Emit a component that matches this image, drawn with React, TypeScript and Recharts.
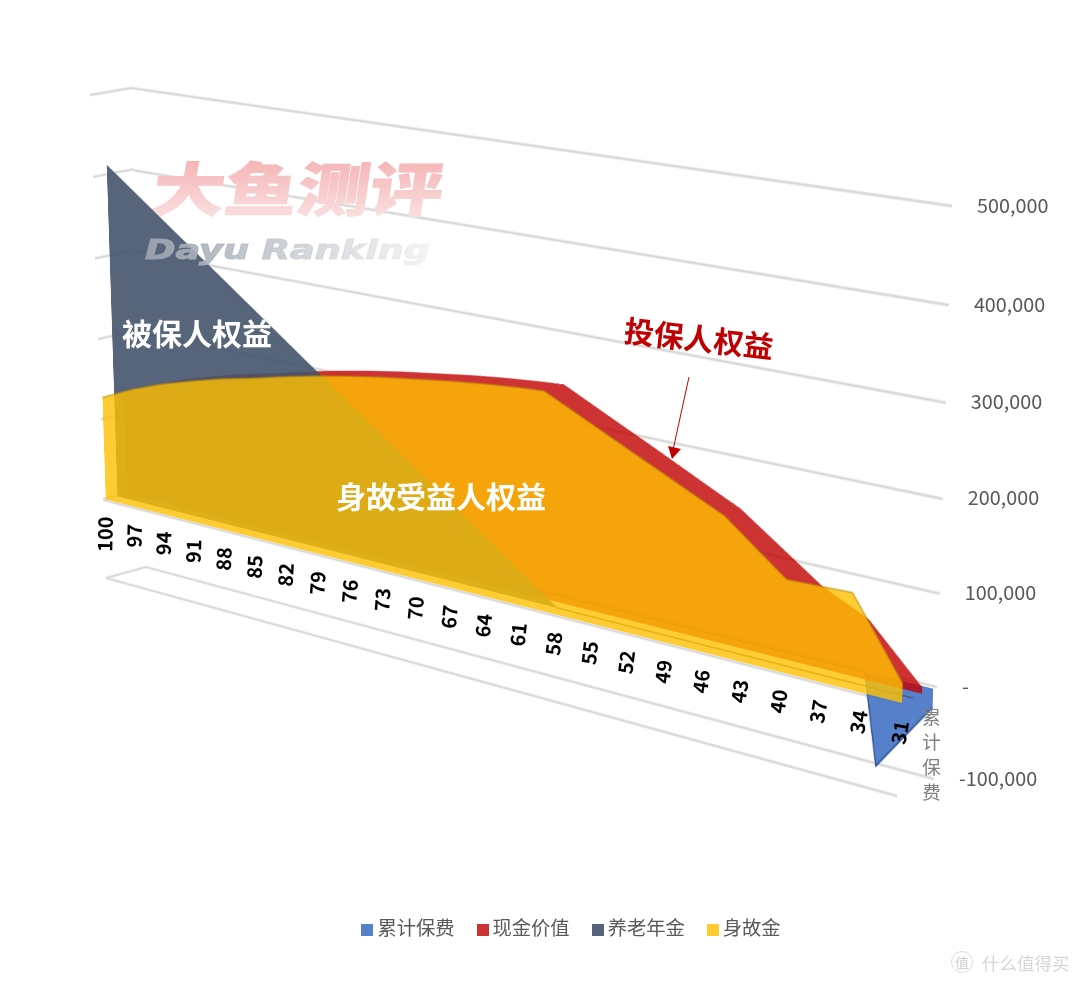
import React from "react";
import { AreaChart, Area, XAxis, YAxis, CartesianGrid, Legend } from "recharts";

type Pt = [number, number];
const ageTicks = [100, 97, 94, 91, 88, 85, 82, 79, 76, 73, 70, 67, 64, 61, 58, 55, 52, 49, 46, 43, 40, 37, 34, 31];
const valueTicks = [-100000, 0, 100000, 200000, 300000, 400000, 500000];
const seriesNames = ["累计保费", "现金价值", "养老年金", "身故金"];
const seriesColors = ["#4472C4", "#C00000", "#44546A", "#FFC000"];
const legendColors = ["#5580CC", "#CB3234", "#566479", "#FFCB30"];

const premium: Pt[] = [[100, 0], [36, 0], [35, -100000], [31, -20000]];
const cashValue: Pt[] = [
  [100, 128000], [97, 146000], [94, 161000], [91, 173000], [88, 184000], [85, 193000], [82, 203000], [79, 212000],
  [76, 220000], [73, 227000], [70, 233000], [67, 239000], [64, 244000], [61, 248000], [59, 250000], [55, 223000],
  [52, 203000], [49, 182500], [46, 162000], [44.8, 154000], [38.5, 90000], [35, 66000], [31, 7000],
];
const pension: Pt[] = [
  [100, 412000], [97, 382000], [94, 352000], [91, 322000], [88, 292000], [85, 262000], [82, 232000], [79, 202000],
  [76, 172000], [73, 142000], [70, 112000], [67, 82000], [64, 52000], [61, 22000], [58.8, 0], [31, 0],
];
const deathBenefit: Pt[] = [
  [100, 129000], [97, 147000], [94, 162000], [91, 174000], [88, 185000], [85, 194000], [82, 204000], [79, 213000],
  [76, 221000], [73, 228000], [70, 234000], [67, 240000], [64, 245000], [61, 249000], [59, 251000], [58, 244500],
  [55, 224800], [52, 205000], [49, 185500], [46, 165800], [44.5, 156000], [39.7, 102500], [34.8, 105000], [31, 21000],
];

const FONT = '"Noto Sans CJK SC", "Noto Sans", sans-serif';
const W = 1000;
const H = 600;
const M = 6;
const FLT: Pt = [90, 95];
const FLB: Pt = [106, 578];
const FRT: Pt = [915, 223];
const FRB: Pt = [897, 796];
const BLT: Pt = [131, 88];
const BLB: Pt = [146, 567];
const BRT: Pt = [952, 206];
const BRB: Pt = [934, 779];

const lerp = (a: Pt, b: Pt, t: number): Pt => [a[0] + (b[0] - a[0]) * t, a[1] + (b[1] - a[1]) * t];
type Quad = [Pt, Pt, Pt, Pt];
const plane = (d: number): Quad => [lerp(FLT, BLT, d), lerp(FRT, BRT, d), lerp(FRB, BRB, d), lerp(FLB, BLB, d)];

function homography(q: Quad) {
  const [[x0, y0], [x1, y1], [x2, y2], [x3, y3]] = q;
  const dx1 = x1 - x2, dx2 = x3 - x2, dx3 = x0 - x1 + x2 - x3;
  const dy1 = y1 - y2, dy2 = y3 - y2, dy3 = y0 - y1 + y2 - y3;
  const den = dx1 * dy2 - dx2 * dy1;
  const g = (dx3 * dy2 - dx2 * dy3) / den;
  const h = (dx1 * dy3 - dx3 * dy1) / den;
  return {
    a: x1 - x0 + g * x1, b: x3 - x0 + h * x3, c: x0,
    d: y1 - y0 + g * y1, e: y3 - y0 + h * y3, f: y0, g, h,
  };
}
const project = (q: Quad, u: number, v: number): Pt => {
  const m = homography(q);
  const w = m.g * u + m.h * v + 1;
  return [(m.a * u + m.b * v + m.c) / w, (m.d * u + m.e * v + m.f) / w];
};
const cssMatrix = (q: Quad) => {
  const m = homography(q);
  const vals = [m.a / W, m.d / W, 0, m.g / W, m.b / H, m.e / H, 0, m.h / H, 0, 0, 1, 0, m.c, m.f, 0, 1];
  return `matrix3d(${vals.join(",")}) translate(${-M}px, ${-M}px)`;
};

const rows = (list: Pt[]) => list.map(([age, value]) => ({ age, value }));
const frame = { position: "absolute", left: 0, top: 0, transformOrigin: "0 0" } as const;

function SeriesPlane(props: { q: Quad; list: Pt[]; name: string; fill: string; alpha: number; stroke?: string; sw?: number; so?: number }) {
  const { q, list, name, fill, alpha, stroke, sw, so } = props;
  return (
    <div style={{ ...frame, transform: cssMatrix(q) }}>
      <AreaChart width={W + 2 * M} height={H + 2 * M} data={rows(list)} margin={{ top: M, right: M, bottom: M, left: M }}>
        <XAxis dataKey="age" type="number" domain={[31, 100]} reversed hide />
        <YAxis type="number" domain={[-100000, 500000]} hide />
        <Area
          dataKey="value"
          name={name}
          type="linear"
          baseValue={0}
          fill={fill}
          fillOpacity={alpha}
          stroke={stroke ?? "none"}
          strokeWidth={sw ?? 1}
          strokeOpacity={so ?? 1}
          dot={false}
          activeDot={false}
          isAnimationActive={false}
        />
      </AreaChart>
    </div>
  );
}

function GridPlane(props: { q: Quad; values: number[]; width?: number }) {
  const { q, values, width } = props;
  return (
    <div style={{ ...frame, transform: cssMatrix(q) }}>
      <AreaChart width={W + 2 * M} height={H + 2 * M} data={rows(premium)} margin={{ top: M, right: M, bottom: M, left: M }}>
        <XAxis dataKey="age" type="number" domain={[31, 100]} reversed hide />
        <YAxis type="number" domain={[-100000, 500000]} ticks={values} interval={0} hide />
        <CartesianGrid vertical={false} horizontalValues={values} stroke="#D9D9D9" strokeWidth={width ?? 2.8} />
        <Area dataKey="value" fill="none" stroke="none" dot={false} activeDot={false} legendType="none" isAnimationActive={false} />
      </AreaChart>
    </div>
  );
}

const AgeTick = (p: any) => {
  const u = (p.x - 1) / 1079;
  const [x, y] = project(plane(0), u, 5 / 6);
  const rot = -89 + 9 * u;
  const ty = y + 16.5;
  return (
    <text
      x={x + 1}
      y={ty}
      textAnchor="end"
      dominantBaseline="central"
      transform={`rotate(${rot} ${x + 1} ${ty})`}
      fontFamily={FONT}
      fontSize={20}
      fontWeight={700}
      fill="#000"
    >
      {p.payload.value}
    </text>
  );
};

const ValueTick = (p: any) => {
  const [x, y] = project(plane(1), 1, p.y / 983);
  const val = p.payload.value;
  return (
    <text x={x + 25} y={y - 2} textAnchor="start" dominantBaseline="central" fontFamily={FONT} fontSize={19.8} fill="#595959">
      {val === 0 ? "-" : val.toLocaleString("en-US")}
    </text>
  );
};

const label = (text: string, x: number, y: number, color: string, extra?: React.CSSProperties) => (
  <div
    style={{
      position: "absolute", left: x, top: y, color, fontFamily: FONT, fontWeight: 700, fontSize: 30,
      lineHeight: "36px", whiteSpace: "nowrap", ...extra,
    }}
  >
    {text}
  </div>
);

export default function App() {
  return (
    <div style={{ position: "absolute", left: 0, top: 0, width: 1080, height: 984, overflow: "hidden", background: "#fff" }}>
      <GridPlane q={[BLT, BRT, BRB, BLB]} values={valueTicks} />
      <GridPlane q={[FLT, BLT, BLB, FLB]} values={valueTicks} />
      <GridPlane q={plane(0)} values={[-100000, 0]} />

      <svg width={1080} height={984} style={{ position: "absolute", left: 0, top: 0 }}>
        <defs>
          <linearGradient id="wmA" x1="0" y1="0" x2="0" y2="1">
            <stop offset="0%" stopColor="#F4A9AB" />
            <stop offset="100%" stopColor="#FBE6E6" />
          </linearGradient>
        </defs>
        <text
          x={0}
          y={0}
          transform="translate(150 211) skewX(-8)"
          fontFamily={FONT}
          fontWeight={900}
          fontSize={58}
          textLength={290}
          lengthAdjust="spacingAndGlyphs"
          fill="url(#wmA)"
          stroke="url(#wmA)"
          strokeWidth={1}
        >
          大鱼测评
        </text>
      </svg>

      <SeriesPlane q={plane(0.9)} list={premium} name={seriesNames[0]} fill={seriesColors[0]} alpha={0.9} stroke="#2F5597" sw={1.5} />
      <SeriesPlane q={plane(0.6)} list={cashValue} name={seriesNames[1]} fill={seriesColors[1]} alpha={0.8} />
      <SeriesPlane q={plane(0.35)} list={pension} name={seriesNames[2]} fill={seriesColors[2]} alpha={0.9} stroke="#44546A" sw={2} so={0.7} />
      <SeriesPlane q={plane(0.06)} list={deathBenefit} name={seriesNames[3]} fill={seriesColors[3]} alpha={0.8} stroke="#B8860B" sw={2} so={0.55} />

      <div style={frame}>
        <AreaChart width={1080} height={984} data={ageTicks.map((age) => ({ age, value: 0 }))} margin={{ top: 0, right: 0, bottom: 0, left: 0 }}>
          <XAxis
            dataKey="age"
            type="number"
            domain={[31, 100]}
            reversed
            ticks={ageTicks}
            interval={0}
            height={1}
            axisLine={false}
            tickLine={false}
            tick={AgeTick}
          />
          <YAxis
            type="number"
            domain={[-100000, 500000]}
            ticks={valueTicks}
            interval={0}
            width={1}
            axisLine={false}
            tickLine={false}
            tick={ValueTick}
          />
          <Area dataKey="value" fill="none" stroke="none" dot={false} activeDot={false} legendType="none" isAnimationActive={false} />
        </AreaChart>
      </div>

      <svg width={1080} height={984} style={{ position: "absolute", left: 0, top: 0 }}>
        <defs>
          <linearGradient id="wmB" x1="0" y1="0" x2="1" y2="0">
            <stop offset="0%" stopColor="#9AA2AE" stopOpacity={0.95} />
            <stop offset="100%" stopColor="#EFEFEF" stopOpacity={0.7} />
          </linearGradient>
        </defs>
        <text
          x={145}
          y={259}
          fontFamily="DejaVu Sans"
          fontWeight={700}
          fontStyle="italic"
          fontSize={27}
          textLength={285}
          lengthAdjust="spacingAndGlyphs"
          fill="url(#wmB)"
          stroke="url(#wmB)"
          strokeWidth={1}
        >
          Dayu Ranking
        </text>
        <line x1={689} y1={377} x2={673} y2={450} stroke="#C00000" strokeWidth={1} />
        <polygon points="668,446 681,449 672,459" fill="#C00000" />
        <g>
          <circle cx={962} cy={962} r={10.5} fill="none" stroke="#DDD" strokeWidth={1} />
          <text x={962} y={962} textAnchor="middle" dominantBaseline="central" fontFamily={FONT} fontSize={14} fill="#CFCFCF">值</text>
          <text x={982} y={962} dominantBaseline="central" fontFamily={FONT} fontSize={17.5} fill="#D6D6D6">什么值得买</text>
        </g>
      </svg>
      {label("被保人权益", 122, 314, "#FFFFFF")}
      {label("身故受益人权益", 336, 477, "#FFFFFF")}
      {label("投保人权益", 624, 319, "#C00000", { transform: "rotate(6.5deg)", transformOrigin: "74px 18px" })}
      <div
        style={{
          position: "absolute", left: 922, top: 708, writingMode: "vertical-rl", color: "#7F7F7F",
          fontFamily: FONT, fontSize: 18.5, letterSpacing: 6.5, lineHeight: "18.5px",
        }}
      >
        累计保费
      </div>

      <div style={{ position: "absolute", left: 0, top: 907, width: 1080, height: 40 }}>
        <AreaChart width={1080} height={40} data={[{ age: 31, a: 0, b: 0, c: 0, d: 0 }]} margin={{ top: 0, right: 0, bottom: 0, left: 0 }}>
          {seriesNames.map((n, i) => (
            <Area key={n} dataKey={"abcd"[i]} name={n} fill={legendColors[i]} fillOpacity={0} stroke="none" legendType="square" dot={false} isAnimationActive={false} />
          ))}
          <Legend
            itemSorter={null}
            iconSize={12}
            layout="horizontal"
            align="center"
            verticalAlign="middle"
            wrapperStyle={{ fontFamily: FONT, fontSize: 19.3, left: 42, width: 1080, textAlign: "center" }}
            formatter={(v: string) => <span style={{ color: "#595959", marginRight: 12 }}>{v}</span>}
          />
        </AreaChart>
      </div>
    </div>
  );
}
